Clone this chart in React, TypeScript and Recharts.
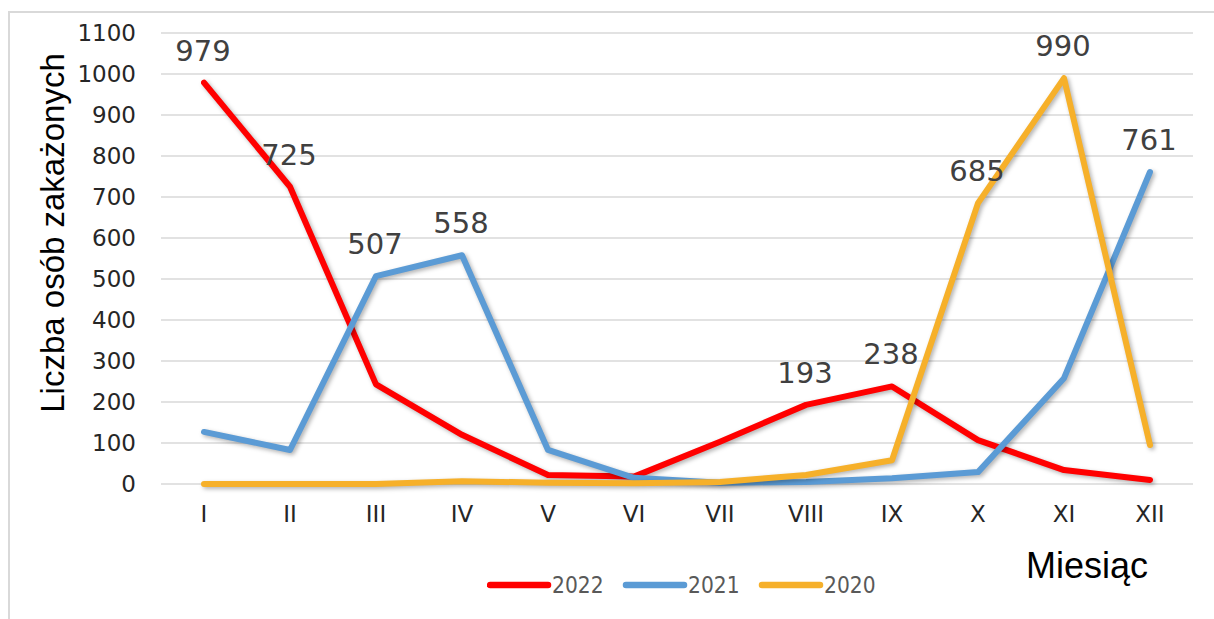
import React from 'react';
import { LineChart, Line, XAxis, YAxis, CartesianGrid, LabelList, Legend } from 'recharts';

const months = ['I', 'II', 'III', 'IV', 'V', 'VI', 'VII', 'VIII', 'IX', 'X', 'XI', 'XII'];
const series2022 = [979, 725, 243, 120, 22, 18, 103, 193, 238, 107, 34, 10];
const series2021 = [127, 83, 507, 558, 83, 15, 3, 5, 14, 29, 258, 761];
const series2020 = [0, 0, 0, 7, 3, 2, 5, 22, 58, 685, 990, 95];
const labeled2022 = ['I', 'II', 'VIII', 'IX'];
const labeled2021 = ['III', 'IV', 'XII'];
const labeled2020 = ['X', 'XI'];
const yTicks = [0, 100, 200, 300, 400, 500, 600, 700, 800, 900, 1000, 1100];
const seriesNames = ['2022', '2021', '2020'];
const seriesColors = ['#FF0000', '#5B9BD5', '#F6B02A'];
const yTitle = 'Liczba osób zakażonych';
const xTitle = 'Miesiąc';

const data = months.map((m, i) => ({
  month: m,
  y2022: series2022[i],
  y2021: series2021[i],
  y2020: series2020[i],
}));

const makeLabel = (labeled: string[]) => (props: any) => {
  const { x, y, value, index } = props;
  if (!labeled.includes(months[index])) return null;
  return (
    <text
      x={x - 1}
      y={y - 22}
      textAnchor="middle"
      fontFamily="'DejaVu Sans', sans-serif"
      fontSize={29}
      fill="#404040"
    >
      {value}
    </text>
  );
};

const legendContent = () => (
  <svg width={420} height={30}>
    {seriesNames.map((name, i) => {
      const off = i * 136;
      return (
        <g key={name}>
          <line x1={off + 3} y1={13} x2={off + 61} y2={13} stroke={seriesColors[i]} strokeWidth={6.5} strokeLinecap="round" />
          <text x={off + 65} y={20.5} fontFamily="'DejaVu Sans Condensed', 'DejaVu Sans', sans-serif" fontSize={22.5} fill="#595959">
            {name}
          </text>
        </g>
      );
    })}
  </svg>
);

export default function App() {
  return (
    <div style={{ position: 'absolute', left: 0, top: 0, width: 1214, height: 619, overflow: 'hidden', background: '#fff' }}>
      <style>{`.recharts-line-curve { filter: drop-shadow(2px 2px 2px rgba(0,0,0,0.3)); }`}</style>
      <div style={{ position: 'absolute', left: 8, top: 11, width: 1230, height: 640, borderLeft: '2px solid #d9d9d9', borderTop: '2px solid #d9d9d9' }} />
      <div style={{ position: 'absolute', left: 0, top: 0 }}>
        <LineChart width={1214} height={619} data={data} margin={{ top: 33, right: 21, left: 0, bottom: 95 }}>
          <CartesianGrid vertical={false} stroke="#d9d9d9" strokeWidth={1.5} />
          <XAxis
            dataKey="month"
            height={40}
            padding={{ left: 43, right: 43 }}
            axisLine={false}
            tickLine={false}
            tickSize={0}
            tickMargin={22}
            interval={0}
            tick={{ fontSize: 23, fill: '#262626', fontFamily: "'DejaVu Sans', sans-serif" }}
            label={{
              content: () => (
                <text x={1087} y={578} textAnchor="middle" fontFamily="'Liberation Sans', Arial, sans-serif" fontSize={36} fill="#000">
                  {xTitle}
                </text>
              ),
            }}
          />
          <YAxis
            width={161}
            domain={[0, 1100]}
            ticks={yTicks}
            interval={0}
            axisLine={false}
            tickLine={false}
            tickSize={0}
            tickMargin={25}
            tick={{ fontSize: 23, fill: '#262626', fontFamily: "'DejaVu Sans', sans-serif" }}
            label={{
              content: () => (
                <text
                  x={52}
                  y={233}
                  transform="rotate(-90, 52, 233)"
                  textAnchor="middle"
                  dominantBaseline="central"
                  fontFamily="'Liberation Sans', Arial, sans-serif"
                  fontSize={33}
                  fill="#000"
                >
                  {yTitle}
                </text>
              ),
            }}
          />
          <Legend
            layout="horizontal"
            align="center"
            verticalAlign="middle"
            content={legendContent}
            wrapperStyle={{ position: 'absolute', left: 487, top: 572, width: 420, height: 30 }}
          />
          <Line type="linear" dataKey="y2022" name="2022" stroke={seriesColors[0]} strokeWidth={6} dot={false} isAnimationActive={false} strokeLinejoin="round" strokeLinecap="round">
            <LabelList dataKey="y2022" content={makeLabel(labeled2022)} />
          </Line>
          <Line type="linear" dataKey="y2021" name="2021" stroke={seriesColors[1]} strokeWidth={6} dot={false} isAnimationActive={false} strokeLinejoin="round" strokeLinecap="round">
            <LabelList dataKey="y2021" content={makeLabel(labeled2021)} />
          </Line>
          <Line type="linear" dataKey="y2020" name="2020" stroke={seriesColors[2]} strokeWidth={6} dot={false} isAnimationActive={false} strokeLinejoin="round" strokeLinecap="round">
            <LabelList dataKey="y2020" content={makeLabel(labeled2020)} />
          </Line>
        </LineChart>
      </div>
    </div>
  );
}
